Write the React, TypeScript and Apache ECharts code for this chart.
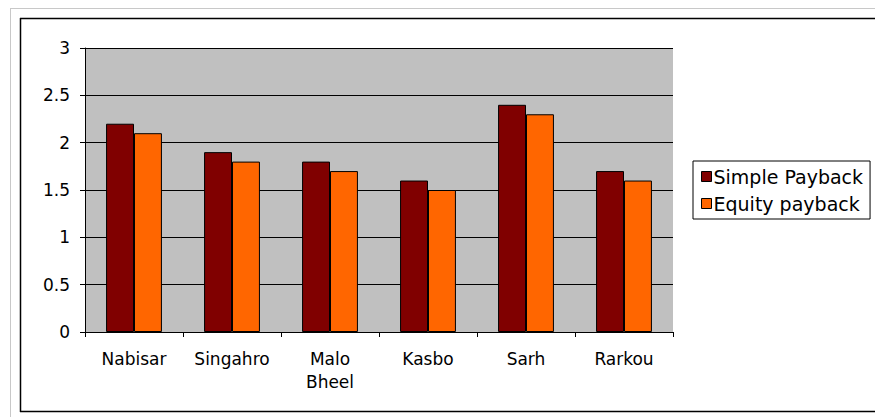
import React, { useEffect, useRef } from "react";
import * as echarts from "echarts";

const categories = ["Nabisar", "Singahro", "Malo\nBheel", "Kasbo", "Sarh", "Rarkou"];
const simplePayback = [2.2, 1.9, 1.8, 1.6, 2.4, 1.7];
const equityPayback = [2.1, 1.8, 1.7, 1.5, 2.3, 1.6];
const seriesNames = ["Simple Payback", "Equity payback"];

export default function App() {
  const ref = useRef<HTMLDivElement>(null);
  useEffect(() => {
    document.body.style.margin = "0";
    document.body.style.overflow = "hidden";
    const chart = echarts.init(ref.current!, null, { renderer: "svg" });
    const font = "'DejaVu Sans', sans-serif";
    chart.setOption({
      animation: false,
      backgroundColor: "#ffffff",
      textStyle: { fontFamily: font },
      graphic: [
        { type: "line", shape: { x1: 10, y1: 8.5, x2: 875, y2: 8.5 }, style: { stroke: "#c8c8c8", lineWidth: 1 }, silent: true },
        { type: "line", shape: { x1: 10.5, y1: 8, x2: 10.5, y2: 417 }, style: { stroke: "#c8c8c8", lineWidth: 1 }, silent: true },
        { type: "line", shape: { x1: 20, y1: 18.5, x2: 875, y2: 18.5 }, style: { stroke: "#000", lineWidth: 1.5 }, silent: true },
        { type: "line", shape: { x1: 20.5, y1: 18, x2: 20.5, y2: 412 }, style: { stroke: "#000", lineWidth: 1.5 }, silent: true },
        { type: "line", shape: { x1: 20, y1: 411.5, x2: 875, y2: 411.5 }, style: { stroke: "#000", lineWidth: 1.5 }, silent: true },
      ],
      grid: { left: 85, top: 48, right: 202, bottom: 85, show: true, backgroundColor: "#c0c0c0", borderWidth: 0 },
      legend: {
        orient: "vertical",
        left: 693,
        top: 161,
        padding: [6, 7, 6, 8],
        itemGap: 8,
        borderColor: "#000",
        borderWidth: 1,
        itemWidth: 10,
        itemHeight: 10,
        icon: "rect",
        itemStyle: { borderColor: "#000", borderWidth: 1 },
        textStyle: { fontFamily: font, fontSize: 19, color: "#000", padding: [0, 0, 0, -3] },
        data: seriesNames,
      },
      xAxis: {
        type: "category",
        data: categories,
        axisLine: { lineStyle: { color: "#000", width: 1 } },
        axisTick: { show: true, length: 5, lineStyle: { color: "#000" } },
        axisLabel: { color: "#000", fontSize: 17, fontFamily: font, margin: 15, lineHeight: 23 },
      },
      yAxis: {
        type: "value",
        min: 0,
        max: 3,
        interval: 0.5,
        axisLine: { show: true, lineStyle: { color: "#000", width: 1 } },
        axisTick: { show: true, length: 5, lineStyle: { color: "#000" } },
        axisLabel: { color: "#000", fontSize: 17, fontFamily: font, margin: 15 },
        splitLine: { show: true, lineStyle: { color: "#000", width: 1 } },
      },
      series: [
        {
          name: seriesNames[0],
          type: "bar",
          data: simplePayback,
          barGap: "0%",
          barCategoryGap: "43%",
          itemStyle: { color: "#800000", borderColor: "#000", borderWidth: 1 },
        },
        {
          name: seriesNames[1],
          type: "bar",
          data: equityPayback,
          itemStyle: { color: "#ff6600", borderColor: "#000", borderWidth: 1 },
        },
      ],
    });
    return () => chart.dispose();
  }, []);
  return <div ref={ref} style={{ width: 875, height: 417 }} />;
}
